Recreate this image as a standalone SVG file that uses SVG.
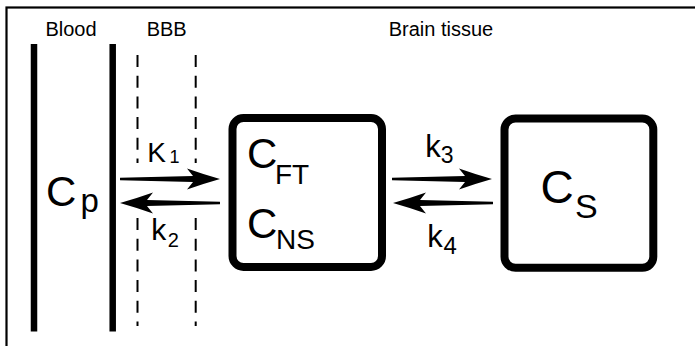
<svg xmlns="http://www.w3.org/2000/svg" xmlns:xlink="http://www.w3.org/1999/xlink" width="695" height="346" viewBox="0 0 695 346">
<style>
  text { font-family: "Liberation Sans", Arial, sans-serif; fill: #000; }
  .lbl { font-size: 20px; text-anchor: middle; }
  .wall { stroke: #000; stroke-width: 6.5; fill: none; }
  .dash { stroke: #000; stroke-width: 2; fill: none; stroke-dasharray: 12 8.7; }
  .box { stroke: #000; stroke-width: 8; fill: #fff; }
  .arr { fill: #000; }
</style>
<defs>
  <path id="arr" d="M -100 -1.2 L -27 -3 L -33 -10.5 Q -16 -4.5 0 0 Q -16 4.5 -33 10.5 L -27 3 L -100 1.2 Z"/>
</defs>
<rect x="6.5" y="7.5" width="800" height="400" fill="#fff" stroke="#000" stroke-width="2.2"/>
<g id="labels">
  <text class="lbl" x="71" y="35.5">Blood</text>
  <text class="lbl" x="166.7" y="35.5">BBB</text>
  <text class="lbl" x="441" y="35.5">Brain tissue</text>
</g>
<g id="blood">
  <line class="wall" x1="34" y1="44" x2="34" y2="331.5"/>
  <line class="wall" x1="112.7" y1="44" x2="112.7" y2="331.5"/>
  <text x="46" y="206" font-size="42">C<tspan x="80.5" y="211.7" font-size="33">p</tspan></text>
</g>
<g id="bbb">
  <line class="dash" x1="137.5" y1="55" x2="137.5" y2="163"/>
  <line class="dash" x1="195.7" y1="55" x2="195.7" y2="163"/>
  <line class="dash" x1="137.5" y1="218" x2="137.5" y2="326"/>
  <line class="dash" x1="195.7" y1="218" x2="195.7" y2="326"/>
</g>
<g id="free">
  <rect class="box" x="232.5" y="118" width="149.5" height="149" rx="11"/>
  <text x="247" y="168" font-size="42">C<tspan x="275" y="184" font-size="28">FT</tspan></text>
  <text x="247" y="238" font-size="42">C<tspan x="276" y="249.3" font-size="28">NS</tspan></text>
</g>
<g id="specific">
  <rect class="box" x="504.5" y="118.5" width="148.8" height="149.3" rx="11"/>
  <text x="540.4" y="202.5" font-size="46">C<tspan x="575" y="218" font-size="34">S</tspan></text>
</g>
<g id="connectors">
  <use xlink:href="#arr" class="arr" transform="translate(220,179)"/>
  <use xlink:href="#arr" class="arr" transform="translate(120,203) scale(-1,1)"/>
  <use xlink:href="#arr" class="arr" transform="translate(492,179)"/>
  <use xlink:href="#arr" class="arr" transform="translate(393,203) scale(-1,1)"/>
  <text x="147.3" y="161.7" font-size="28">K<tspan x="169.5" y="163.3" font-size="18">1</tspan></text>
  <text x="151.3" y="240" font-size="30">k<tspan x="167.7" y="247.3" font-size="20">2</tspan></text>
  <text x="425.3" y="156.7" font-size="31">k<tspan x="440.7" y="163.3" font-size="23">3</tspan></text>
  <text x="427.3" y="246.7" font-size="31">k<tspan x="443.5" y="254" font-size="24">4</tspan></text>
</g>
</svg>
